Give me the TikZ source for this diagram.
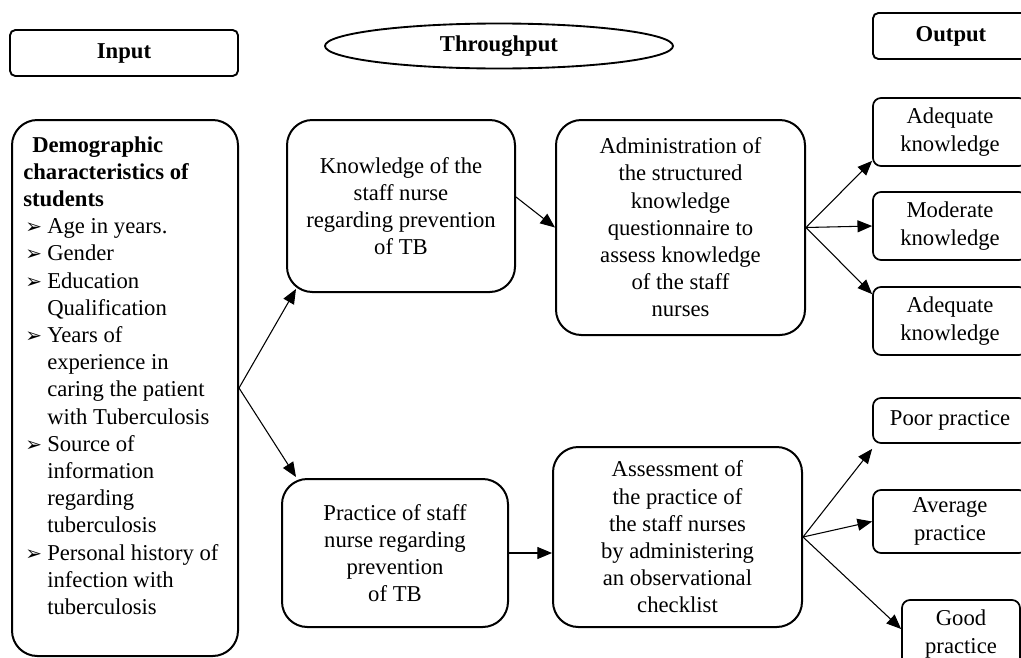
\documentclass[tikz,border=0pt]{standalone}
\usepackage{fontspec}
\setmainfont{Liberation Serif}
\newfontfamily\dingfont{DejaVu Sans}
\usepackage{tikz}
\usetikzlibrary{shapes,arrows.meta}

\newlength{\pxu}
\setlength{\pxu}{0.75pt}
\newcommand{\itm}{\hspace*{2\pxu}\makebox[22\pxu][l]{\dingfont\fontsize{15}{15}\selectfont ➢}}
\newcommand{\cnt}{\hspace*{24\pxu}}

\begin{document}
\begin{tikzpicture}[x=0.75pt,y=-0.75pt,
    font=\fontsize{17}{20.4}\selectfont,
    hdrbox/.style={draw,line width=1.4pt,rounded corners=4pt,inner sep=0pt,font=\fontsize{17}{20.4}\selectfont\bfseries},
    hdroval/.style={draw,ellipse,line width=1.4pt,inner sep=0pt,font=\fontsize{17}{20.4}\selectfont\bfseries},
    flowbox/.style={draw,line width=1.5pt,rounded corners=19pt,align=center,inner sep=0pt},
    outbox/.style={draw,line width=1.3pt,rounded corners=6pt,align=center,inner sep=0pt},
    link/.style={->,line width=0.8pt},
    >={Triangle[length=11pt,width=9pt]}]
\useasboundingbox (0,0) rectangle (1021,657);

% headings
\node[hdrbox, minimum width=228\pxu, minimum height=46\pxu] (input) at (124,53) {Input};
\node[hdroval, minimum width=348\pxu, minimum height=45\pxu] (through) at (499,46) {Throughput};
\node[hdrbox, minimum width=156\pxu, minimum height=46\pxu] (output) at (951,36) {Output};

% input
\node[flowbox, minimum width=226\pxu, minimum height=536\pxu] (demo) at (125,388) {};
\node[anchor=north west, align=left, inner sep=0pt] (demotext) at (23,136) {%
  \hspace*{9\pxu}\textbf{Demographic}\\
  \textbf{characteristics of}\\
  \textbf{students}\\
  \itm Age in years.\\
  \itm Gender\\
  \itm Education\\
  \cnt Qualification\\
  \itm Years of\\
  \cnt experience in\\
  \cnt caring the patient\\
  \cnt with Tuberculosis\\
  \itm Source of\\
  \cnt information\\
  \cnt regarding\\
  \cnt tuberculosis\\
  \itm Personal history of\\
  \cnt infection with\\
  \cnt tuberculosis};

% throughput
\node[flowbox, minimum width=228\pxu, minimum height=172\pxu] (know) at (401,206) {Knowledge of the\\staff nurse\\regarding prevention\\of TB};
\node[flowbox, minimum width=226\pxu, minimum height=148\pxu] (prac) at (395,553) {Practice of staff\\nurse regarding\\prevention\\of TB};
\node[flowbox, minimum width=249\pxu, minimum height=215\pxu] (admin) at (680.5,227.5) {Administration of\\the structured\\knowledge\\questionnaire to\\assess knowledge\\of the staff\\nurses};
\node[flowbox, minimum width=249\pxu, minimum height=180\pxu] (assess) at (677.5,537) {Assessment of\\the practice of\\the staff nurses\\by administering\\an observational\\checklist};

% output
\node[outbox, minimum width=154\pxu, minimum height=68\pxu] (adeq) at (950,132) {Adequate\\knowledge};
\node[outbox, minimum width=154\pxu, minimum height=68\pxu] (moder) at (950,226) {Moderate\\knowledge};
\node[outbox, minimum width=154\pxu, minimum height=68\pxu] (adeqb) at (950,321) {Adequate\\knowledge};
\node[outbox, minimum width=154\pxu, minimum height=45\pxu] (poor) at (950,420.5) {Poor practice};
\node[outbox, minimum width=154\pxu, minimum height=63\pxu] (avg) at (950,521.5) {Average\\practice};
\node[outbox, minimum width=118\pxu, minimum height=68\pxu] (good) at (961,634) {Good\\practice};

\draw[link] (demo.east) -- ([shift={(10,-4)}]know.south west);
\draw[link] (demo.east) -- ([shift={(15,-1)}]prac.north west);
\draw[link] ([shift={(0,-9)}]know.east) -- (admin.west);
\draw[link] (prac.east) -- (prac.east -| assess.west);
\draw[link] (admin.east) -- ([shift={(0,-6)}]adeq.south west);
\draw[link] (admin.east) -- (moder.west);
\draw[link] (admin.east) -- ([shift={(0,8)}]adeqb.north west);
\draw[link] (assess.east) -- ([shift={(0,5)}]poor.south west);
\draw[link] (assess.east) -- (avg.west);
\draw[link] (assess.east) -- ([shift={(0,-5)}]good.west);
\end{tikzpicture}
\end{document}
